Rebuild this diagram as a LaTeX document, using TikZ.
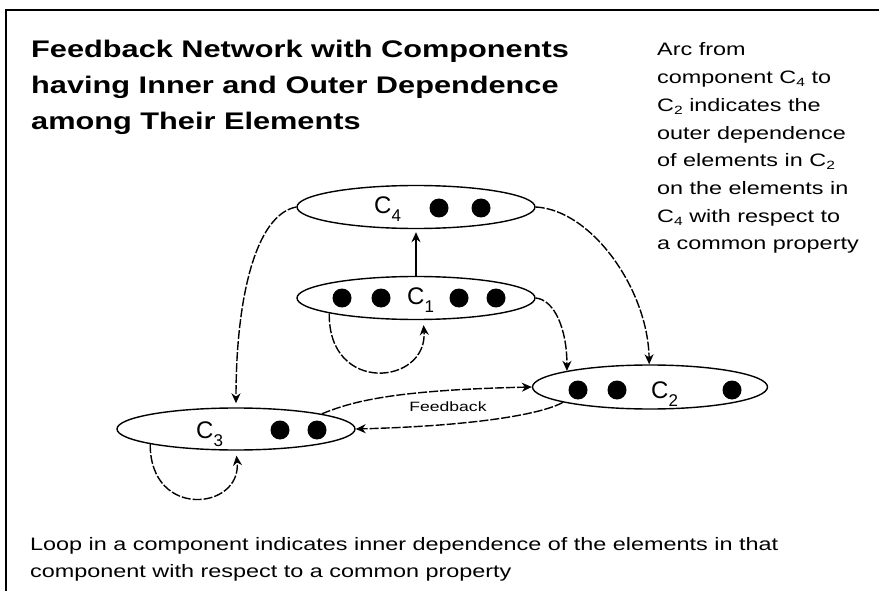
\documentclass[tikz,border=0pt]{standalone}
\usepackage{fontspec}
\setmainfont{Liberation Sans}
\newfontfamily\titlefont{Liberation Sans}[FakeStretch=1.28]
\newfontfamily\bodyfont{Liberation Sans}[FakeStretch=1.3]
\usetikzlibrary{shapes.geometric,arrows.meta}
\newcommand\smallsub[1]{\raisebox{-3pt}{\fontsize{12}{12}\selectfont #1}}
\newcommand\complab[1]{C\raisebox{-8pt}{\fontsize{17}{17}\selectfont #1}}
\begin{document}
\begin{tikzpicture}[x=1pt,y=-1pt,
  comp/.style={draw, ellipse, inner sep=0pt, line width=1.4pt},
  elem/.style={circle, fill=black, inner sep=0pt, minimum size=19pt},
  clab/.style={anchor=base west, inner sep=0pt, font=\fontsize{24}{24}\selectfont},
  arc/.style={-{Stealth[length=10pt,width=9pt]}, line width=1.4pt, dash pattern=on 9pt off 2pt},
  solidarc/.style={-{Stealth[length=10pt,width=9pt]}, line width=1.4pt},
  ttl/.style={anchor=base west, inner sep=0pt, font=\titlefont\bfseries\fontsize{24}{24}\selectfont},
  txt/.style={anchor=base west, inner sep=0pt, font=\bodyfont\fontsize{18}{18}\selectfont}]
\useasboundingbox (0,0) rectangle (879,591);
\fill[white] (0,0) rectangle (879,591);
% frame
\draw[line width=2pt] (6,591) -- (6,10) -- (879,10);

% title
\node[ttl] (t1) at (31,58) {Feedback Network with Components};
\node[ttl] (t2) at (31,94) {having Inner and Outer Dependence};
\node[ttl] (t3) at (31,130) {among Their Elements};

% right note
\node[txt] (n1) at (657,56) {Arc from};
\node[txt] (n2) at (657,83.7) {component C\smallsub{4} to};
\node[txt] (n3) at (657,111.4) {C\smallsub{2} indicates the};
\node[txt] (n4) at (657,139.1) {outer dependence};
\node[txt] (n5) at (657,166.8) {of elements in C\smallsub{2}};
\node[txt] (n6) at (657,194.5) {on the elements in};
\node[txt] (n7) at (657,222.2) {C\smallsub{4} with respect to};
\node[txt] (n8) at (657,250) {a common property};

% bottom note
\node[txt] (b1) at (30,550) {Loop in a component indicates inner dependence of the elements in that};
\node[txt] (b2) at (30,577) {component with respect to a common property};

% components
\node[comp, minimum width=238pt, minimum height=43pt] (C4) at (416,207) {};
\node[comp, minimum width=238pt, minimum height=43pt] (C1) at (416,298) {};
\node[comp, minimum width=235pt, minimum height=44pt] (C2) at (650,387) {};
\node[comp, minimum width=238pt, minimum height=42pt] (C3) at (236,429) {};

% labels
\node[clab] (L4) at (374,214) {\complab{4}};
\node[clab] (L1) at (407,304) {\complab{1}};
\node[clab] (L2) at (651,398) {\complab{2}};
\node[clab] (L3) at (196,438) {\complab{3}};

% elements
\node[elem] (e41) at (439,208) {};
\node[elem] (e42) at (481,208) {};
\node[elem] (e11) at (342,298) {};
\node[elem] (e12) at (381,298) {};
\node[elem] (e13) at (459,298) {};
\node[elem] (e14) at (496,298) {};
\node[elem] (e21) at (578,390) {};
\node[elem] (e22) at (617,390) {};
\node[elem] (e23) at (732,390) {};
\node[elem] (e31) at (280,430) {};
\node[elem] (e32) at (317,430) {};

% connectors
\draw[solidarc, shorten >=3pt] (C1.north) -- (C4.south);
\draw[arc, shorten >=5pt] (C1.190) .. controls (328,395) and (428,385) .. (C1.288);
\draw[arc] (C1.east) .. controls (555,300) and (567,330) .. (C2.169);
\draw[arc] (C4.east) .. controls (592,210) and (648,290) .. (C2.92);
\draw[arc, shorten >=4pt] (C4.west) .. controls (255,215) and (236,300) .. (C3.north);
\draw[arc, shorten >=5pt] (C3.190) .. controls (150,520) and (242,510) .. (C3.south);
\draw[arc] (C3.10) .. controls (355,400) and (400,390) .. (C2.west);
\draw[arc] (C2.190) .. controls (540,415) and (470,426) .. (C3.east);
\node[inner sep=0pt, font=\bodyfont\fontsize{13.5}{13.5}\selectfont] (fb) at (448,407) {Feedback};
\end{tikzpicture}
\end{document}
